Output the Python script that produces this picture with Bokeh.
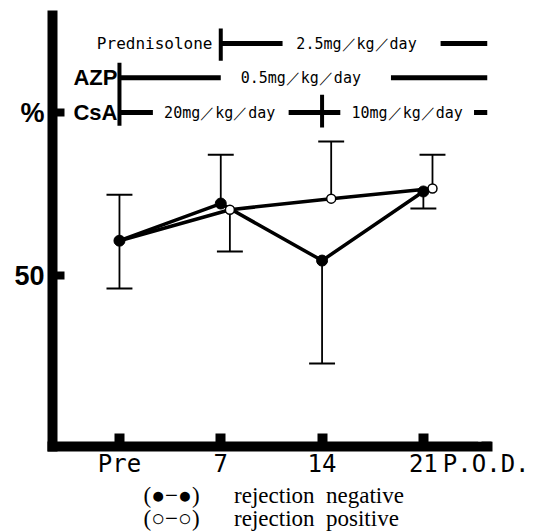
import numpy as np
from bokeh.plotting import figure
from bokeh.models import Range1d, FixedTicker, Title
from bokeh.core.properties import value
from bokeh.embed import file_html
from bokeh.resources import INLINE

# ---- data ----
categories = ["Pre", "7", "14", "21"]
x_idx = [0, 1, 2, 3]
neg_mean = [60.7, 72.1, 54.6, 75.8]      # rejection negative (filled)
neg_err_end = [74.8, 87.1, 23.0, 70.6]   # end of drawn error bar
pos_mean = [60.7, 70.2, 73.6, 76.7]      # rejection positive (open)
pos_err_end = [46.0, 57.4, 91.1, 87.1]
y_ticks = [50, 100]
y_tick_labels = ["50", "%"]

drugs = ["Prednisolone", "AZP", "CsA"]
dose_texts = ["2.5mg／kg／day", "0.5mg／kg／day", "20mg／kg／day", "10mg／kg／day"]
legend_lines = ["(●−●)\u00a0\u00a0\u00a0\u00a0\u00a0\u00a0rejection\u00a0\u00a0negative",
                "(○−○)\u00a0\u00a0\u00a0\u00a0\u00a0\u00a0rejection\u00a0\u00a0positive"]
pod_label = "P.O.D."
pod_pos = 3.62

# ---- figure ----
p = figure(width=541, height=531, output_backend="svg", toolbar_location=None,
           x_range=Range1d(-0.661, 3.633), y_range=Range1d(-2.45, 129.8),
           min_border_left=52, min_border_right=54, min_border_top=15,
           min_border_bottom=85)
p.outline_line_color = None
p.grid.visible = False
p.background_fill_color = "white"
p.border_fill_color = "white"

xa = p.xaxis[0]
xa.ticker = FixedTicker(ticks=x_idx + [pod_pos])
xa.major_label_overrides = {**{i: c for i, c in zip(x_idx, categories)}, pod_pos: pod_label}
xa.axis_line_width = 10
xa.axis_line_cap = "square"
xa.major_tick_in = 13
xa.major_tick_out = 0
xa.major_tick_line_width = 10
xa.minor_tick_line_color = None
xa.major_label_text_font = "DejaVu Sans Mono"
xa.major_label_text_font_size = "24px"
xa.major_label_text_color = "black"
xa.major_label_standoff = 3

ya = p.yaxis[0]
ya.ticker = FixedTicker(ticks=y_ticks)
ya.major_label_overrides = {t: l for t, l in zip(y_ticks, y_tick_labels)}
ya.axis_line_width = 10
ya.axis_line_cap = "square"
ya.major_tick_in = 12
ya.major_tick_out = 0
ya.major_tick_line_width = 8
ya.minor_tick_line_color = None
ya.major_label_text_font = "Liberation Sans"
ya.major_label_text_font_style = "bold"
ya.major_label_text_font_size = "27px"
ya.major_label_text_color = "black"
ya.major_label_standoff = 8

# hide the tick mark that only carries the "P.O.D." label
p.rect(x=[pod_pos], y=[0.5], width=16, height=9, width_units="screen", height_units="screen",
       fill_color="white", line_color=None, level="overlay")

# ---- series ----
xn = np.array(x_idx, dtype=float)
xp = xn + np.array([0, 0.09, 0.09, 0.09])
cap = 0.128

p.line(xp, pos_mean, line_width=3.5, color="black")
p.line(xn, neg_mean, line_width=3.5, color="black")

p.segment(xn, neg_mean, xn, neg_err_end, line_width=1.8, color="black")
p.segment(xn - cap, neg_err_end, xn + cap, neg_err_end, line_width=2, color="black")
p.segment(xp, pos_mean, xp, pos_err_end, line_width=1.8, color="black")
p.segment(xp - cap, pos_err_end, xp + cap, pos_err_end, line_width=2, color="black")

p.scatter(xp, pos_mean, size=9, fill_color="white", line_color="black", line_width=1.5)
p.scatter(xn, neg_mean, size=11, fill_color="black", line_color="black")

# ---- treatment regimen annotation ----
row_y = [121.2, 110.7, 100.0]
p.segment([1.0, 3.17, 0.0, 2.68, 0.0, 1.67, 3.50],
          [row_y[0], row_y[0], row_y[1], row_y[1], row_y[2], row_y[2], row_y[2]],
          [1.61, 3.633, 1.0, 3.633, 0.33, 2.18, 3.633],
          [row_y[0], row_y[0], row_y[1], row_y[1], row_y[2], row_y[2], row_y[2]],
          line_width=5, color="black")
p.segment([1.0, 0.0, 2.0], [125.8, 115.3, 105.5], [1.0, 0.0, 2.0], [115.9, 96.0, 95.4],
          line_width=4, color="black")

p.text(x=[0.918], y=[row_y[0]], text=[drugs[0]], text_font=value("DejaVu Sans Mono"),
       text_font_size="16px", text_align="right", text_baseline="middle", text_color="black")
p.text(x=[-0.02, -0.02], y=[row_y[1], row_y[2]], text=drugs[1:], text_font=value("Liberation Sans"),
       text_font_style="bold", text_font_size="22px", text_align="right",
       text_baseline="middle", text_color="black")
p.text(x=[2.34, 1.79, 0.99, 2.84], y=[row_y[0], row_y[1], row_y[2], row_y[2]], text=dose_texts,
       text_font=value("DejaVu Sans Mono"), text_font_size="15px", text_align="center",
       text_baseline="middle", text_color="black")

# ---- legend lines below the axis ----
p.add_layout(Title(text="\n".join(legend_lines), align="left", offset=91, standoff=0,
                   text_font="Liberation Serif", text_font_style="normal",
                   text_font_size="23px", text_line_height=0.9, text_color="black"), "below")

open("out.html", "w").write(file_html(p, INLINE))
